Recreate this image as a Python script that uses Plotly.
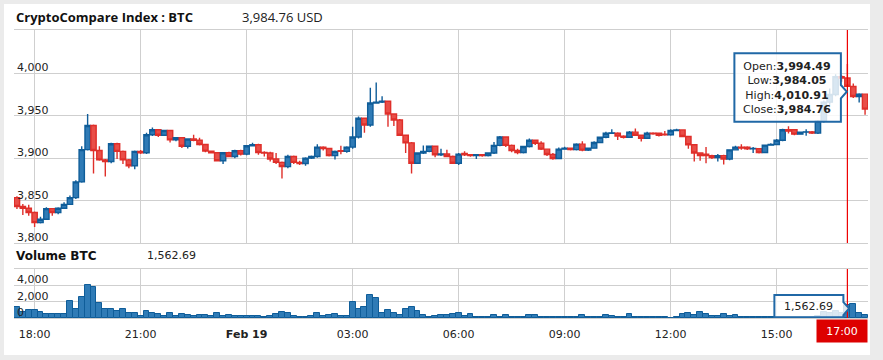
import pandas as pd
import plotly.graph_objects as go

# ---------------- data (10-minute candles, 17:30 Feb 18 -> 17:30 Feb 19) ----------------
start_time = "2019-02-18 17:30"
n_candles = 145
times = pd.date_range(start_time, periods=n_candles, freq="10min")

opens = [3853.5, 3843, 3841, 3836, 3824, 3828, 3840.5, 3836, 3841, 3845.5,
         3853.5, 3872, 3910, 3938.5, 3909, 3898, 3896, 3917, 3908, 3898,
         3891, 3908, 3906.3, 3927.5, 3933.5, 3927, 3932.5, 3921.5, 3924, 3914,
         3922.5, 3921, 3916, 3908.3, 3906.3, 3897, 3906.3, 3902, 3908.7, 3904.7,
         3914.6, 3915.7, 3906.7, 3906, 3899, 3895, 3890, 3902, 3895, 3893.7,
         3900, 3902, 3913, 3911.4, 3903, 3908.8, 3908, 3913, 3925, 3947,
         3939, 3965, 3966, 3967, 3952, 3945, 3927, 3918, 3894, 3906,
         3908, 3914, 3904, 3905, 3902, 3894, 3905.5, 3904, 3903, 3904,
         3903, 3906, 3915, 3925, 3915, 3909, 3906.7, 3913.7, 3921, 3917.6,
         3910.6, 3904.3, 3899.6, 3910.6, 3911.8, 3910, 3916.5, 3909.4, 3911.8, 3918.4,
         3924.7, 3929.4, 3929.4, 3926, 3924.7, 3930.6, 3927, 3923.5, 3929.4, 3929.4,
         3928.2, 3927.5, 3932.6, 3933.3, 3925.5, 3915.7, 3906, 3904.7, 3903, 3900.8,
         3903, 3899, 3909.8, 3913, 3913, 3911, 3911, 3906.7, 3915.3, 3916,
         3921, 3933.4, 3933.4, 3928.3, 3930.6, 3931, 3929.5, 3943.6, 3966, 3975,
         3996, 3994.49, 3984.5, 3972.7, 3975.4]
closes = [3843, 3841, 3836, 3824, 3828, 3840.5, 3836, 3841, 3845.5, 3853.5,
          3872, 3910, 3938.5, 3909, 3898, 3896, 3917, 3908, 3898, 3891,
          3908, 3906.3, 3927.5, 3933.5, 3927, 3932.5, 3921.5, 3924, 3914, 3922.5,
          3921, 3916, 3908.3, 3906.3, 3897, 3906.3, 3902, 3908.7, 3904.7, 3914.6,
          3915.7, 3906.7, 3906, 3899, 3895, 3890, 3902, 3895, 3893.7, 3900,
          3902, 3913, 3911.4, 3903, 3908, 3908, 3913, 3925, 3947, 3939,
          3965, 3966, 3967, 3952, 3945, 3927, 3918, 3894, 3906, 3908,
          3914, 3904, 3905, 3902, 3894, 3904.7, 3904, 3903, 3904, 3903,
          3906, 3915, 3925, 3915, 3909, 3906.7, 3913.7, 3921, 3917.6, 3910.6,
          3904.3, 3899.6, 3910.6, 3911.8, 3910, 3916.5, 3909.4, 3911.8, 3918.4, 3924.7,
          3929.4, 3929.8, 3926, 3924.7, 3930.6, 3927, 3923.5, 3929.4, 3928.6, 3927,
          3927.5, 3932.6, 3933.3, 3925.5, 3915.7, 3906, 3903, 3903, 3900.8, 3903,
          3899, 3909.8, 3913, 3912, 3911, 3911.5, 3906.7, 3915.3, 3916, 3921,
          3933.4, 3931.8, 3928.3, 3930.6, 3931, 3929.5, 3943.6, 3966, 3975, 3996,
          3994.49, 3984.76, 3972.7, 3975.4, 3957.8]
highs = [3855, 3846, 3845, 3837, 3831, 3842, 3841, 3842, 3848, 3856,
         3874, 3914, 3952, 3939.5, 3914, 3899, 3918, 3918, 3909, 3899,
         3909, 3909.5, 3930, 3936, 3934, 3933.5, 3933, 3925, 3925, 3923.5,
         3927.5, 3924, 3917, 3909, 3907, 3907, 3907.5, 3910, 3910, 3915.5,
         3918, 3917, 3908, 3907.5, 3906, 3896, 3904, 3903, 3897, 3901,
         3903, 3916.5, 3914, 3912, 3909, 3914.5, 3914, 3937, 3949, 3948,
         3983, 3989, 3973, 3968, 3953, 3946, 3928, 3919, 3907, 3915,
         3915, 3915, 3911, 3910, 3903, 3906, 3908, 3905, 3905, 3904.5,
         3907, 3919, 3926, 3925.5, 3916, 3911, 3914.5, 3923, 3922, 3920,
         3911.5, 3906, 3912.5, 3913.5, 3912.5, 3917.5, 3920, 3912.5, 3920, 3925.5,
         3931, 3934, 3930.5, 3927, 3932, 3935, 3928, 3931, 3930.5, 3930,
         3932, 3934, 3934.5, 3934, 3926.5, 3916.5, 3907, 3913, 3904, 3905,
         3904, 3910.5, 3914.5, 3916.5, 3914, 3913, 3912, 3916, 3917.5, 3922.5,
         3934.5, 3937.5, 3934, 3931.5, 3934, 3932, 3945, 3968, 3982, 3999,
         3998, 4010.91, 3988, 3976.5, 3976]
lows = [3840, 3833, 3832, 3819, 3823, 3827, 3832, 3834, 3840, 3845,
        3852, 3871, 3909, 3882, 3897, 3878.5, 3894, 3899, 3893, 3888,
        3887, 3905, 3905, 3926, 3925, 3926, 3918.5, 3920, 3912, 3911.5,
        3920, 3915, 3907, 3905.5, 3896, 3893, 3901, 3900, 3903, 3903.5,
        3914, 3904, 3902, 3896, 3893, 3876, 3888, 3893, 3892, 3891,
        3899, 3900.5, 3909, 3902, 3898.5, 3904.5, 3906.5, 3911, 3923, 3930,
        3937, 3964, 3965, 3937, 3938, 3926, 3906, 3882, 3893, 3905,
        3907, 3901, 3902.5, 3901, 3893, 3892, 3902.5, 3901.5, 3899, 3901.5,
        3902, 3905, 3914, 3913, 3907, 3904.5, 3905.5, 3912.5, 3915.5, 3909.5,
        3902.5, 3898, 3899, 3910, 3909, 3909, 3908, 3908.5, 3911, 3917.5,
        3923.5, 3928.5, 3921.5, 3923, 3924, 3926, 3919.5, 3922.5, 3927.5, 3925.5,
        3926.5, 3926.5, 3932, 3924.5, 3911, 3896, 3897, 3894, 3899, 3896,
        3892.5, 3897.5, 3909, 3910, 3909.5, 3906, 3905.5, 3906, 3914.5, 3915.5,
        3920, 3929, 3927, 3927.5, 3926.5, 3928.5, 3928.5, 3942, 3963, 3973,
        3990, 3984.05, 3971, 3965.6, 3951]
volumes = [1300, 700, 950, 950, 750, 480, 480, 480, 480, 2000,
           1150, 2600, 4050, 3700, 1850, 1150, 1050, 900, 1150, 560,
           560, 200, 800, 560, 480, 200, 560, 240, 480, 340,
           240, 340, 340, 240, 600, 240, 340, 280, 210, 210,
           210, 210, 90, 210, 460, 700, 580, 220, 100, 100,
           220, 620, 220, 350, 450, 260, 210, 1930, 1080, 1370,
           2800, 2440, 600, 960, 600, 400, 1080, 1350, 840, 350,
           80, 200, 330, 330, 480, 580, 240, 440, 160, 60,
           160, 320, 160, 320, 160, 160, 60, 320, 320, 160,
           160, 160, 60, 60, 60, 160, 320, 160, 160, 160,
           420, 300, 150, 150, 440, 150, 150, 150, 150, 150,
           150, 20, 180, 500, 650, 340, 780, 460, 300, 240,
           450, 240, 420, 150, 150, 150, 150, 150, 150, 150,
           150, 150, 150, 150, 150, 150, 300, 700, 550, 850,
           650, 1562.69, 1650, 550, 330]

hover_index = 141
last_price_text = "3,984.76 USD"
price_ticks = [3800, 3850, 3900, 3950, 4000]
volume_ticks = [0, 2000, 4000]
x_tick_times = ["2019-02-18 18:00", "2019-02-18 21:00", "2019-02-19 00:00", "2019-02-19 03:00",
                "2019-02-19 06:00", "2019-02-19 09:00", "2019-02-19 12:00", "2019-02-19 15:00"]
x_tick_labels = ["18:00", "21:00", "<b>Feb 19</b>", "03:00", "06:00", "09:00", "12:00", "15:00"]
x_range = ["2019-02-18 17:25", "2019-02-19 17:35"]

# ---------------- styles ----------------
UP_FILL, UP_LINE = "#2f7bb6", "#0f5d99"
DN_FILL, DN_LINE = "#e94e48", "#df2f2a"
GRID = "#cfcfcf"
TXT = "#222222"
TIP = "#2068a6"
FONT = "DejaVu Sans"
CROSS = "#ee0000"

fig = go.Figure()
fig.add_trace(go.Candlestick(
    x=times, open=opens, high=highs, low=lows, close=closes,
    increasing=dict(fillcolor=UP_FILL, line=dict(color=UP_LINE, width=1.4)),
    decreasing=dict(fillcolor=DN_FILL, line=dict(color=DN_LINE, width=1.4)),
    whiskerwidth=0, xaxis="x", yaxis="y", hoverinfo="skip"))
fig.add_trace(go.Bar(
    x=times, y=volumes, marker=dict(color=UP_FILL, line=dict(color=UP_LINE, width=1)),
    xaxis="x2", yaxis="y2", hoverinfo="skip"))

hx = times[hover_index]

axis_common = dict(showgrid=True, gridcolor=GRID, gridwidth=1, zeroline=False,
                   tickvals=x_tick_times, ticks="", range=x_range,
                   showline=True, mirror=True, linecolor=GRID, linewidth=1)

fig.update_layout(
    width=883, height=360,
    margin=dict(l=14, r=15, t=30, b=42),
    paper_bgcolor="#ebebeb", plot_bgcolor="white",
    showlegend=False, boxgap=0.1, boxgroupgap=0.0, bargap=0,
    font=dict(family=FONT, size=11, color=TXT),
    xaxis=dict(domain=[0, 1], anchor="y", showticklabels=False,
               rangeslider=dict(visible=False), **axis_common),
    xaxis2=dict(domain=[0, 1], anchor="y2", matches="x", showticklabels=True,
                ticktext=x_tick_labels, tickfont=dict(family=FONT, size=11, color=TXT),
                ticklabelstandoff=6, rangeslider=dict(visible=False), **axis_common),
    yaxis=dict(domain=[0.2604, 1], range=[3800, 4051], tickvals=price_ticks,
               showticklabels=False, ticks="", showgrid=True, gridcolor=GRID, zeroline=False),
    yaxis2=dict(domain=[0, 0.1701], range=[0, 5940], tickvals=volume_ticks,
                showticklabels=False, ticks="", showgrid=True, gridcolor=GRID, zeroline=False),
)

shapes = [
    # white card
    dict(type="rect", xref="paper", yref="paper", x0=-0.0117, x1=1.0023, y0=-0.1285, y1=1.0903,
         fillcolor="white", line=dict(width=0), layer="below"),
    # red cross-hair line
    dict(type="line", xref="x", yref="y domain", x0=hx, x1=hx, y0=0, y1=1,
         line=dict(color=CROSS, width=1.2)),
    dict(type="line", xref="x2", yref="y2 domain", x0=hx, x1=hx, y0=0, y1=1,
         line=dict(color=CROSS, width=1.2)),
    # price tooltip box with pointer
    dict(type="path", xref="x", yref="y", xsizemode="pixel", ysizemode="pixel",
         xanchor=hx, yanchor=closes[hover_index],
         path="M -113,33 L -6.5,33 L -6.5,1.2 L -0.6,-5.5 L -6.5,-12.1 L -6.5,-35.5 L -113,-35.5 Z",
         fillcolor="rgba(255,255,255,0.82)", line=dict(color=TIP, width=2)),
    # volume tooltip box with pointer
    dict(type="path", xref="x2", yref="y2", xsizemode="pixel", ysizemode="pixel",
         xanchor=hx, yanchor=volumes[hover_index],
         path="M -73,10 L -4,10 L -4,3 L 1.7,-3.2 L -4,-9.9 L -4,-12.2 L -73,-12.2 Z",
         fillcolor="rgba(255,255,255,0.82)", line=dict(color=TIP, width=2)),
]
fig.update_layout(shapes=shapes)

def fmt(v):
    return f"{v:,.2f}"

tip_text = (f"Open:<b>{fmt(opens[hover_index])}</b><br>"
            f"Low:<b>{fmt(lows[hover_index])}</b><br>"
            f"High:<b>{fmt(highs[hover_index])}</b><br>"
            f"Close:<b>{fmt(closes[hover_index])}</b>")

annotations = [
    dict(text="<b>CryptoCompare Index : BTC</b>", xref="paper", yref="paper", x=0, y=1.0451,
         xanchor="left", yanchor="middle", showarrow=False,
         font=dict(family="Open Sans", size=13, color="#111111")),
    dict(text=last_price_text, xref="paper", yref="paper", x=0.2646, y=1.0451,
         xanchor="left", yanchor="middle", showarrow=False,
         font=dict(family="Open Sans", size=13, color=TXT)),
    dict(text="<b>Volume BTC</b>", xref="paper", yref="paper", x=0, y=0.2153,
         xanchor="left", yanchor="middle", showarrow=False,
         font=dict(family=FONT, size=12, color="#111111")),
    dict(text=fmt(volumes[hover_index]), xref="paper", yref="paper", x=0.1534, y=0.2153,
         xanchor="left", yanchor="middle", showarrow=False,
         font=dict(family=FONT, size=11, color=TXT)),
    dict(text=tip_text, xref="x", yref="y", x=hx, y=closes[hover_index],
         xanchor="center", yanchor="middle", xshift=-60, yshift=-1.3, showarrow=False,
         align="center", font=dict(family=FONT, size=11, color=TXT)),
    dict(text=fmt(volumes[hover_index]), xref="x2", yref="y2", x=hx, y=volumes[hover_index],
         xanchor="center", yanchor="middle", xshift=-38.5, yshift=-1.1, showarrow=False,
         font=dict(family=FONT, size=11, color=TXT)),
    dict(text="17:00", xref="x2", yref="paper", x=hx, y=-0.0451, xanchor="center",
         yanchor="middle", xshift=-5.5, showarrow=False, width=50, height=22,
         bgcolor="#dd0000", borderpad=0, font=dict(family=FONT, size=11, color="white")),
]
# y-axis tick labels sitting just above their grid lines (inside the plot, at the left)
for v in price_ticks:
    annotations.append(dict(text=f"{v:,}", xref="paper", yref="y", x=0, y=v, xanchor="left",
                            yanchor="bottom", xshift=1, yshift=-3, showarrow=False,
                            font=dict(family=FONT, size=11, color=TXT)))
for v in volume_ticks:
    annotations.append(dict(text=f"{v:,}", xref="paper", yref="y2", x=0, y=v, xanchor="left",
                            yanchor="bottom", xshift=1, yshift=-3, showarrow=False,
                            font=dict(family=FONT, size=11, color=TXT)))
fig.update_layout(annotations=annotations)

fig.write_html("out.html", config={"displayModeBar": False},
               post_script="document.body.style.margin='0';")
